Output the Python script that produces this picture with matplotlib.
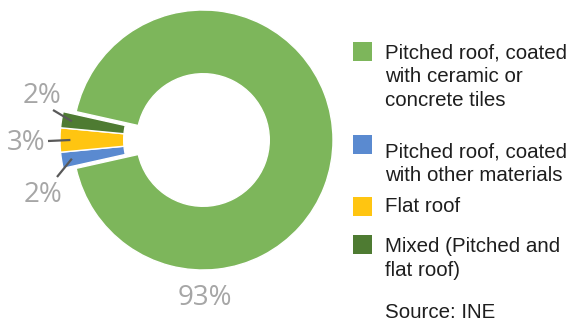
import numpy as np
import matplotlib
matplotlib.use("Agg")
import matplotlib.pyplot as plt
from matplotlib.patches import Rectangle

# data
categories = ["Pitched roof, coated\nwith ceramic or\nconcrete tiles",
              "Pitched roof, coated\nwith other materials",
              "Flat roof",
              "Mixed (Pitched and\nflat roof)"]
shares = [93, 2, 3, 2]
colors = ["#7DB65B", "#5A8AD0", "#FFC511", "#4E7B32"]
source = "Source: INE"

W, H = 572, 322
fig = plt.figure(figsize=(W / 100, H / 100), dpi=100)
ax = fig.add_axes([0, 0, 1, 1])

# ring geometry in pixel units (y up)
cx, cy, R = 203, H - 140, 130
explode_px = 13

# small slices centred on 9 o'clock, drawn clockwise
small = sum(shares[1:]) / sum(shares) * 360
start = 180 - small / 2
wedges, _ = ax.pie(shares, colors=colors, startangle=start, counterclock=False,
                   center=(cx, cy), radius=R,
                   wedgeprops=dict(width=R * 0.49, edgecolor="white", linewidth=1.0))
for w in wedges[1:]:
    w.set_center((cx - explode_px, cy))

ax.set_xlim(0, W)
ax.set_ylim(0, H)
ax.set_aspect("equal")
ax.axis("off")

lab_kw = dict(fontsize=20, color="#A6A6A6", family="Open Sans", ha="center", va="center")

# main slice label below the ring
ax.text(cx + 2, H - 298, f"{shares[0]}%", **lab_kw)

# small slice labels with leader lines (label pos, line start) in image px
lab_pos = [(43, 195), (26, 143), (42, 96)]
line_start = [(57, 177), (48, 141), (53, 110)]
for w, v, lp, ls in zip(wedges[1:], shares[1:], lab_pos, line_start):
    mid = np.deg2rad((w.theta1 + w.theta2) / 2)
    ax_, ay_ = w.center[0] + 0.92 * R * np.cos(mid), w.center[1] + 0.92 * R * np.sin(mid)
    ax.plot([ls[0], ax_], [H - ls[1], ay_], color="#595959", lw=1.6, solid_capstyle="butt")
    ax.text(lp[0], H - lp[1], f"{v}%", **lab_kw)

# legend
txt_kw = dict(fontsize=14.8, color="#1E1E1E", family="Liberation Sans", ha="left", va="center")
line_h = 23.5
first_line = [53, 152, 207, 247]
box_top = [42, 135, 197, 235]
for name, c, y0, bt in zip(categories, colors, first_line, box_top):
    ax.add_patch(Rectangle((353, H - bt - 19), 19, 19, facecolor=c, edgecolor="none"))
    for k, line in enumerate(name.split("\n")):
        ax.text(385, H - (y0 + k * line_h), line, **txt_kw)
ax.text(385, H - 312, source, **txt_kw)

fig.savefig("out.png", dpi=100)
